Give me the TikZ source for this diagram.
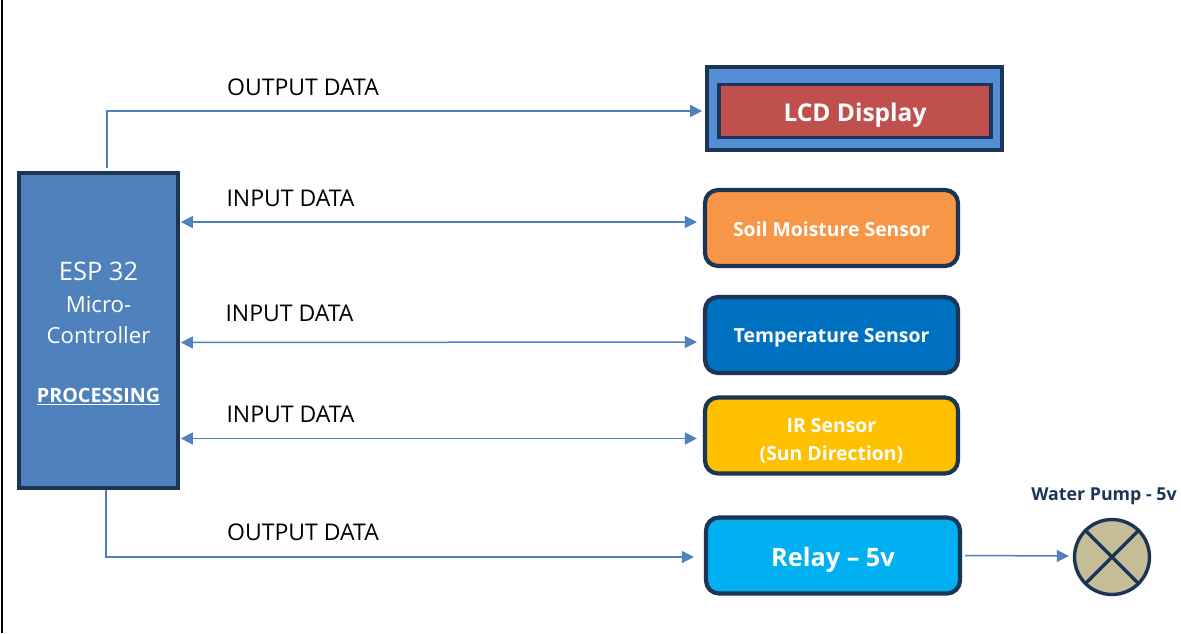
\documentclass[tikz,border=0pt]{standalone}
\usepackage{fontspec}
\setmainfont{Open Sans}
\usetikzlibrary{arrows.meta}
\definecolor{linedark}{HTML}{1B3556}
\definecolor{linkblue}{HTML}{4F81BD}
\definecolor{espblue}{HTML}{4F81BD}
\definecolor{lcdblue}{HTML}{558ED5}
\definecolor{lcdred}{HTML}{C0504D}
\definecolor{soilorange}{HTML}{F79646}
\definecolor{tempblue}{HTML}{0070C0}
\definecolor{iryellow}{HTML}{FFC000}
\definecolor{relaycyan}{HTML}{00B0F0}
\definecolor{pumpkhaki}{HTML}{C4BD97}
\newcommand{\dropped}[2]{\raisebox{-#1}[\height][\depth]{#2}}
\tikzset{
    blockbox/.style={draw=linedark, line width=3.8pt, text=white, align=center, inner sep=0pt},
    sensorbox/.style={blockbox, line width=4.2pt, rounded corners=13pt, minimum width=253pt, minimum height=76pt, font=\fontsize{19.4}{28}\selectfont\bfseries},
    datalabel/.style={font=\fontsize{23}{26}\selectfont, text=black, inner sep=0pt},
    datalink/.style={draw=linkblue, line width=1.5pt, -{Triangle[length=12pt,width=12pt]}},
    datalinkboth/.style={datalink, {Triangle[length=12pt,width=12pt]}-{Triangle[length=12pt,width=12pt]}}
}
\begin{document}
\begin{tikzpicture}[x=1pt, y=-1pt]
    \useasboundingbox (0,0) rectangle (1181,633);
    % Sheet edge
    \draw[black, line width=2pt] (1.8,0) -- (1.8,633);

    % Controller
    \node[blockbox, fill=espblue, minimum width=159pt, minimum height=315pt, font=\fontsize{22.2}{30}\selectfont] (esp) at (98.5,330.5)
        {\dropped{3pt}{\fontsize{25.5}{30}\selectfont ESP 32}\\[3pt]
         \dropped{2pt}{Micro-}\\
         \dropped{3pt}{Controller}\\[30pt]
         \dropped{2pt}{\fontsize{19.7}{24}\selectfont\bfseries\underline{PROCESSING}}};

    % Outputs and sensors
    \node[blockbox, fill=lcdblue, minimum width=295pt, minimum height=83pt] (lcdframe) at (854.5,108.5) {};
    \node[blockbox, fill=lcdred, minimum width=272pt, minimum height=53pt, font=\fontsize{24.5}{28}\selectfont\bfseries] (lcd) at (855,111) {\dropped{4pt}{LCD Display}};
    \node[sensorbox, fill=soilorange] (soil) at (831.5,228) {\dropped{1pt}{Soil Moisture Sensor}};
    \node[sensorbox, fill=tempblue] (temp) at (831.5,335) {\dropped{2.5pt}{Temperature Sensor}};
    \node[sensorbox, fill=iryellow] (ir) at (831.5,435.5) {\dropped{6pt}{IR Sensor}\\\dropped{6pt}{(Sun Direction)}};
    \node[sensorbox, fill=relaycyan, minimum width=254pt, font=\fontsize{25.3}{28}\selectfont\bfseries] (relay) at (833,555.5) {\dropped{4pt}{Relay – 5v}};

    % Pump
    \node[circle, draw=linedark, fill=pumpkhaki, line width=3.4pt, minimum size=75pt, inner sep=0pt] (pump) at (1112,557) {};
    \draw[draw=linedark, line width=3.4pt] (pump.45) -- (pump.225);
    \draw[draw=linedark, line width=3.4pt] (pump.135) -- (pump.315);
    \node[text=linedark, font=\fontsize{17.8}{20}\selectfont\bfseries, inner sep=0pt] (pumplabel) at (1104,496) {Water Pump - 5v};

    % Links
    \draw[datalink] ([xshift=8.5pt,yshift=3pt]esp.north) |- ([xshift=-3pt]lcdframe.west |- lcd.west);
    \draw[datalinkboth] ([xshift=1pt,yshift=108.5pt]esp.east) -- ([xshift=-6pt,yshift=6pt]soil.west);
    \draw[datalinkboth] ([xshift=1pt,yshift=-12pt]esp.east) -- ([xshift=-6pt,yshift=-7pt]temp.west);
    \draw[datalinkboth] ([xshift=1pt,yshift=-108pt]esp.east) -- ([xshift=-6pt,yshift=-3pt]ir.west);
    \draw[datalink] ([xshift=7.5pt]esp.south) |- ([xshift=-10pt,yshift=-1.5pt]relay.west);
    \draw[datalink] ([xshift=3pt]relay.east) -- ([xshift=-4pt,yshift=1pt]pump.west);

    % Link labels
    \node[datalabel] (outtop) at (303,87) {OUTPUT DATA};
    \node[datalabel] (insoil) at (290.5,198) {INPUT DATA};
    \node[datalabel] (intemp) at (289.5,313) {INPUT DATA};
    \node[datalabel] (inir) at (290.5,414) {INPUT DATA};
    \node[datalabel] (outbot) at (303,532) {OUTPUT DATA};
\end{tikzpicture}
\end{document}
